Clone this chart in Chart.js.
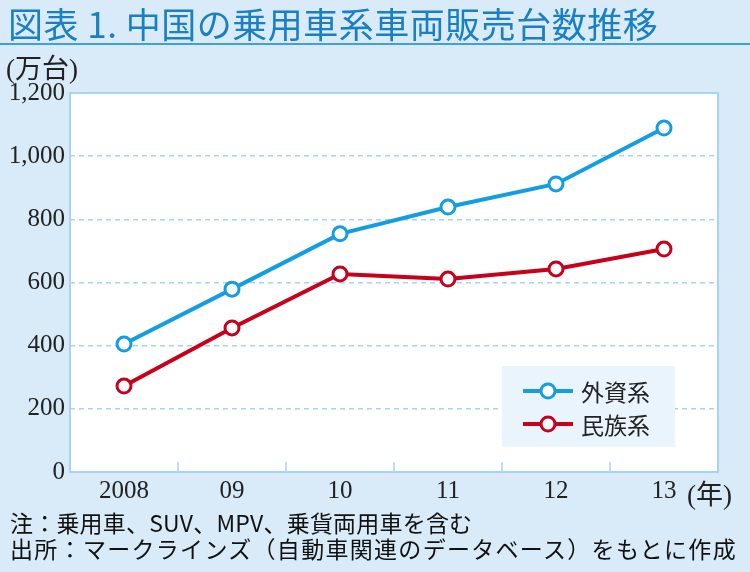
<!DOCTYPE html>
<html><head><meta charset="utf-8">
<script src="https://cdn.jsdelivr.net/npm/chart.js@4.4.1/dist/chart.umd.min.js"></script>
<style>
html,body{margin:0;padding:0;}
body{width:750px;height:572px;background:#d9eaf8;position:relative;overflow:hidden;font-family:"Noto Sans CJK JP",sans-serif;}
#title{position:absolute;left:8px;top:-3px;font-size:35px;color:#1a80c4;white-space:nowrap;letter-spacing:0.5px;}
#rule{position:absolute;left:0;top:43px;width:750px;height:2px;background:#3fa0dc;}
#unit{position:absolute;left:6px;top:47px;font-size:27px;color:#222;font-family:"Liberation Serif","Noto Sans CJK JP",serif;}
#yr{position:absolute;left:687px;top:473px;font-size:27px;color:#222;font-family:"Liberation Serif","Noto Sans CJK JP",serif;}
.note{position:absolute;left:10px;font-size:23px;color:#111;white-space:nowrap;}
#n1{top:505px;letter-spacing:0.2px;}
#n2{top:531px;letter-spacing:1.3px;}
canvas{position:absolute;left:0;top:0;}
</style></head>
<body>
<canvas id="c" width="750" height="572"></canvas>
<div id="title">図表 1. 中国の乗用車系車両販売台数推移</div>
<div id="rule"></div>
<div id="unit">(万台)</div>
<div id="yr">(年)</div>
<div class="note" id="n1">注：乗用車、SUV、MPV、乗貨両用車を含む</div>
<div class="note" id="n2">出所：マークラインズ（自動車関連のデータベース）をもとに作成</div>
<script>
const categories = ["2008", "09", "10", "11", "12", "13"];
const foreignBrands = [405, 579, 754, 839, 912, 1089];
const domesticBrands = [272, 456, 627, 611, 643, 706];
const seriesNames = ["外資系", "民族系"];
const yTicks = [0, 200, 400, 600, 800, 1000, 1200];

const BLUE = "#139ee3", RED = "#c8001c", EDGE = "#a6d4f2";

const framePlugin = {
  id: "frame",
  beforeDraw(chart) {
    const {ctx, chartArea: a} = chart;
    ctx.save();
    ctx.fillStyle = "#ffffff";
    ctx.fillRect(a.left, a.top, a.right - a.left, a.bottom - a.top);
    ctx.restore();
  },
  beforeDatasetsDraw(chart) {
    const {ctx, chartArea: a, scales} = chart;
    ctx.save();
    ctx.strokeStyle = EDGE;
    ctx.lineWidth = 2;
    ctx.strokeRect(a.left, a.top, a.right - a.left, a.bottom - a.top);
    const xs = scales.x;
    ctx.lineWidth = 1.5;
    for (let i = 0; i < categories.length - 1; i++) {
      const x = (xs.getPixelForTick(i) + xs.getPixelForTick(i + 1)) / 2;
      ctx.beginPath();
      ctx.moveTo(x, a.bottom);
      ctx.lineTo(x, a.bottom - 10);
      ctx.stroke();
    }
    ctx.restore();
  },
  afterDraw(chart) {
    const {ctx} = chart;
    const bx = 502, by = 366, bw = 173, bh = 81;
    ctx.save();
    ctx.fillStyle = "#eaf4fc";
    ctx.fillRect(bx, by, bw, bh);
    const ys = [391, 424];
    chart.data.datasets.forEach((ds, i) => {
      const y = ys[i];
      ctx.strokeStyle = ds.borderColor;
      ctx.lineWidth = 4;
      ctx.beginPath(); ctx.moveTo(523, y); ctx.lineTo(573, y); ctx.stroke();
      ctx.fillStyle = "#fff";
      ctx.lineWidth = 3;
      ctx.beginPath(); ctx.arc(548, y, 7, 0, Math.PI * 2); ctx.fill(); ctx.stroke();
      ctx.fillStyle = "#222";
      ctx.font = '23px "Noto Sans CJK JP"';
      ctx.textBaseline = "middle";
      ctx.fillText(ds.label, 581, y + 1);
    });
    ctx.restore();
  }
};

new Chart(document.getElementById("c"), {
  type: "line",
  data: {
    labels: categories,
    datasets: [
      {label: seriesNames[0], data: foreignBrands, borderColor: BLUE, backgroundColor: "#fff",
       borderWidth: 4, pointRadius: 7, pointBorderWidth: 3, pointBackgroundColor: "#fff", pointBorderColor: BLUE, tension: 0},
      {label: seriesNames[1], data: domesticBrands, borderColor: RED, backgroundColor: "#fff",
       borderWidth: 4, pointRadius: 7, pointBorderWidth: 3, pointBackgroundColor: "#fff", pointBorderColor: RED, tension: 0}
    ]
  },
  options: {
    responsive: false,
    animation: false,
    devicePixelRatio: 1,
    layout: {padding: {top: 93, right: 32, bottom: 55, left: 0}},
    plugins: {legend: {display: false}, title: {display: false}, tooltip: {enabled: false}},
    scales: {
      x: {
        offset: true,
        grid: {display: false, drawTicks: false},
        border: {display: false},
        ticks: {color: "#222", padding: 4, font: {family: "Liberation Serif", size: 25}, maxRotation: 0},
        afterFit(s) { s.height = 45; }
      },
      y: {
        min: 0, max: 1200,
        afterBuildTicks(s) { s.ticks = yTicks.map(v => ({value: v})); },
        grid: {drawTicks: false, lineWidth: 1.5,
               color: c => (c.tick && (c.tick.value === 0 || c.tick.value === 1200)) ? "rgba(0,0,0,0)" : "#a6d4f2"},
        border: {display: false, dash: [5, 4]},
        ticks: {color: "#222", padding: 5, font: {family: "Liberation Serif", size: 25},
                callback: v => v.toLocaleString("en-US")},
        afterFit(s) { s.width = 70; }
      }
    }
  },
  plugins: [framePlugin]
});
</script>
</body></html>
